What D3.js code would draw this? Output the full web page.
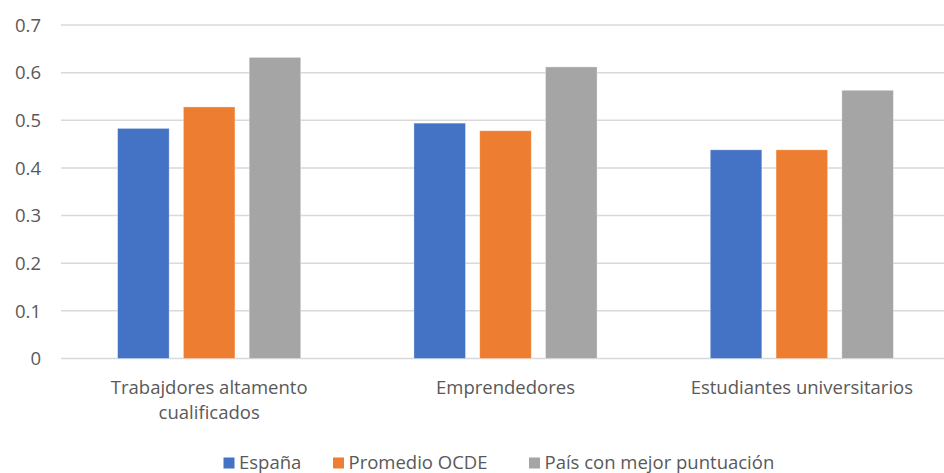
<!DOCTYPE html>
<html><head><meta charset="utf-8">
<script src="https://cdn.jsdelivr.net/npm/d3@7"></script>
<style>
html,body{margin:0;padding:0;background:#fff;}
svg text{font-family:"Open Sans",sans-serif;fill:#595959;}
</style></head>
<body><svg id="c" width="944" height="473"></svg>
<script>
const categories = [["Trabajdores altamento","cualificados"],["Emprendedores"],["Estudiantes universitarios"]];
const seriesNames = ["España","Promedio OCDE","País con mejor puntuación"];
const colors = ["#4472C4","#ED7D31","#A5A5A5"];
const espana = [0.483, 0.494, 0.438];
const ocde = [0.528, 0.478, 0.438];
const mejor = [0.632, 0.612, 0.563];
const yTicks = [0,0.1,0.2,0.3,0.4,0.5,0.6,0.7];

(function(){
const series = [espana, ocde, mejor];
const svg = d3.select("#c");
const fs = 18.5;
const mLeft = 61, mRight = 950, mTop = 25, mBottom = 358.5;
const x = d3.scaleBand().domain(d3.range(categories.length)).range([mLeft, mRight]).paddingInner(0).paddingOuter(0);
const y = d3.scaleLinear().domain([0,0.7]).range([mBottom, mTop]);

svg.append("g").selectAll("line").data(yTicks).join("line")
  .attr("x1", mLeft).attr("x2", mRight)
  .attr("y1", d=>y(d)).attr("y2", d=>y(d))
  .attr("stroke", "#D9D9D9").attr("stroke-width", 1.5);

svg.append("g").selectAll("text").data(yTicks).join("text")
  .attr("x", 41).attr("y", d=>y(d)).attr("dy","0.36em")
  .attr("text-anchor","end").attr("font-size",fs)
  .text(d=> d===0 ? "0" : d3.format(".1f")(d));

const bw = x.bandwidth();
const barW = bw*0.174, gap = bw*0.048;
const inner = d3.scaleBand().domain(d3.range(3)).range([0, 3*barW+2*gap]).paddingInner(gap/(barW+gap)).paddingOuter(0);
const groupOff = (bw - (3*barW+2*gap))/2;

series.forEach((vals, si) => {
  svg.append("g").selectAll("rect").data(vals).join("rect")
    .attr("x", (d,i)=> x(i) + groupOff + inner(si))
    .attr("width", inner.bandwidth())
    .attr("y", d=>y(d))
    .attr("height", d=>mBottom - y(d))
    .attr("fill", colors[si])
    .attr("stroke", "#ffffff").attr("stroke-opacity",0.45).attr("stroke-width",0.75);
});

categories.forEach((lines, i) => {
  const t = svg.append("text").attr("text-anchor","middle").attr("font-size",fs)
    .attr("x", x(i) + bw/2).attr("y", 394);
  lines.forEach((l, li) => t.append("tspan").attr("x", x(i)+bw/2).attr("dy", li===0?0:25).text(l));
});

const legX = [223.5, 333, 529];
const leg = svg.append("g");
seriesNames.forEach((n, i) => {
  leg.append("rect").attr("x", legX[i]).attr("y", 457.5).attr("width", 11).attr("height", 11).attr("fill", colors[i]);
  leg.append("text").attr("x", legX[i]+15.5).attr("y", 469).attr("font-size",fs).text(n);
});
})();
</script></body></html>
